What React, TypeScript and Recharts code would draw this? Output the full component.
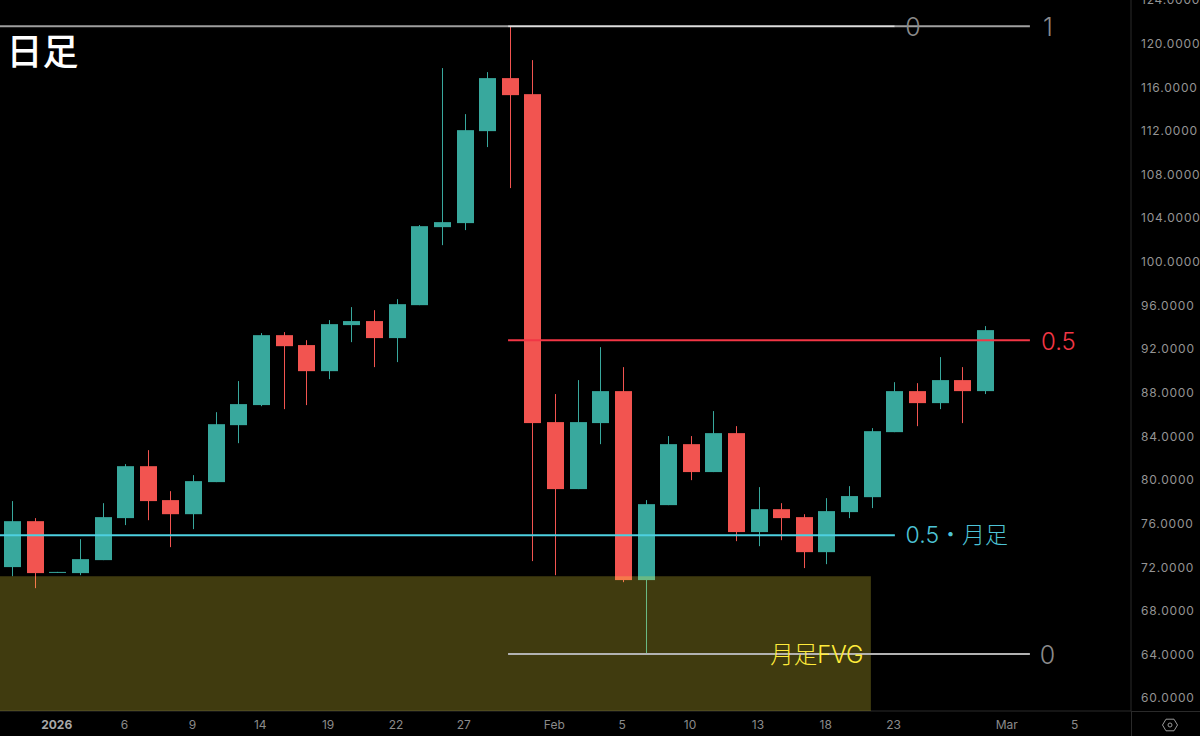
import {
  ComposedChart,
  Bar,
  XAxis,
  YAxis,
  ReferenceArea,
  ReferenceLine,
  ReferenceDot,
} from "recharts";

// Daily candles
const opens = [
  72.02, 76.23, 71.49, 71.47, 72.66, 76.51, 81.27, 78.16, 76.87, 79.81, 85.03,
  86.87, 93.28, 92.37, 89.98, 94.2, 94.57, 93.01, 96.03, 103.18, 103.55, 111.98,
  116.84, 115.37, 85.31, 79.17, 85.22, 88.15, 70.83, 77.7, 83.29, 80.73, 84.3,
  75.23, 77.33, 76.6, 73.39, 77.06, 78.43, 84.39, 88.15, 87.05, 89.16, 88.15,
];
const closes = [
  76.23, 71.47, 71.58, 72.75, 76.6, 81.27, 78.07, 76.87, 79.9, 85.12, 86.96,
  93.28, 92.27, 89.98, 94.29, 94.57, 93.01, 96.12, 103.27, 103.64, 112.07,
  116.84, 115.28, 85.22, 79.17, 85.31, 88.15, 70.83, 77.79, 83.29, 80.73, 84.3,
  75.23, 77.33, 76.51, 73.39, 77.15, 78.53, 84.48, 88.15, 87.05, 89.16, 88.15,
  93.74,
];
const highs = [
  78.07, 76.51, 71.58, 74.58, 77.88, 81.46, 82.74, 78.98, 80.45, 86.22, 89.07,
  93.47, 93.56, 92.82, 94.66, 95.85, 95.57, 96.58, 103.37, 117.76, 113.54,
  117.39, 121.61, 118.49, 87.88, 89.16, 92.18, 90.35, 78.16, 84.03, 84.03,
  86.32, 84.94, 79.35, 77.88, 76.87, 78.34, 79.44, 84.76, 88.97, 88.88, 91.27,
  90.35, 94.11,
];
const lows = [
  71.19, 70.09, 71.49, 71.28, 72.66, 75.87, 76.32, 73.85, 75.5, 79.81, 83.38,
  86.77, 86.5, 86.87, 89.25, 92.64, 90.35, 90.81, 96.03, 101.53, 102.91, 110.52,
  106.76, 72.57, 71.28, 79.17, 83.29, 70.64, 64.14, 77.7, 79.99, 80.73, 74.4,
  73.94, 74.49, 71.93, 72.29, 76.51, 77.43, 84.39, 84.94, 86.5, 85.22, 87.88,
];

const xTicks = [2, 5, 8, 11, 14, 17, 20, 24, 27, 30, 33, 36, 39, 44, 47];
const xLabels = ["2026", "6", "9", "14", "19", "22", "27", "Feb", "5", "10", "13", "18", "23", "Mar", "5"];
const yTicks = [60, 64, 68, 72, 76, 80, 84, 88, 92, 96, 100, 104, 108, 112, 116, 120, 124];

const xDomain = [-0.5504, 49.4493];
const yDomain = [58.83, 124];

// Drawn levels: [from index, to index, price, colour]
const levels: [number, number, number, string][] = [
  [-0.5504, 21.91, 121.6, "#9e9e9e"],
  [21.91, 39.01, 121.6, "#dddddd"],
  [39.01, 44.98, 121.6, "#a0a0a0"],
  [21.91, 44.98, 92.82, "#f23645"],
  [-0.5504, 39.01, 74.95, "#4dd0e1"],
  [21.91, 44.98, 64.05, "#b2b2b2"],
];

// Text on the chart: [text, index, price, colour, size]
const notes: [string, number, number, string, number][] = [
  ["0", 39.81, 121.5, "#8a8a8a", 25],
  ["1", 45.78, 121.5, "#8a8a8a", 25],
  ["0.5", 46.24, 92.73, "#f23645", 24],
  ["0.5・月足", 41.75, 74.95, "#4dc3d6", 23],
  ["月足FVG", 35.56, 63.95, "#ffeb3b", 23.5],
  ["0", 45.76, 63.95, "#8a8a8a", 25],
];
const title = ["日足", 1.33, 119.2] as const;

const fvg = { x1: -0.5504, x2: 37.95, y1: 58.83, y2: 71.19 };

const candles = opens.map((open, i) => ({
  idx: i,
  open,
  close: closes[i],
  high: highs[i],
  low: lows[i],
  range: [lows[i], highs[i]],
}));

const UP = "#38a89d";
const DOWN = "#f25450";
const NOTE_FONT = "Inter, 'Noto Sans CJK JP'";

const Candle = (props: any) => {
  const { x, y, height, payload } = props;
  const h = Math.abs(height);
  const perUnit = h / (payload.high - payload.low);
  const top = y + (payload.high - Math.max(payload.open, payload.close)) * perUnit;
  const bodyH = Math.abs(payload.open - payload.close) * perUnit;
  const color = payload.close >= payload.open ? UP : DOWN;
  const left = Math.round(x);
  return (
    <g>
      <rect x={left + 8} y={y} width={1} height={h} fill={color} />
      <rect x={left} y={top} width={17} height={Math.max(bodyH, 1)} fill={color} />
    </g>
  );
};

const DateTick = (props: any) => {
  const { x, y, payload } = props;
  const label = xLabels[xTicks.indexOf(payload.value)];
  const isYear = label === "2026";
  return (
    <text
      x={x - 1}
      y={y + 10}
      textAnchor="middle"
      fontFamily="Inter"
      fontSize={12}
      fontWeight={isYear ? 700 : 400}
      fill={isYear ? "#a8a8a8" : "#8b8b8b"}
    >
      {label}
    </text>
  );
};

export default function App() {
  return (
    <div style={{ position: "absolute", left: 0, top: 0, width: 1200, height: 736, background: "#000", overflow: "hidden" }}>
      <ComposedChart
        width={1200}
        height={736}
        data={candles}
        margin={{ top: 0, right: 0, bottom: 0, left: 0 }}
      >
        <XAxis
          dataKey="idx"
          type="number"
          domain={xDomain}
          allowDataOverflow
          ticks={xTicks}
          interval={0}
          height={25}
          tickLine={false}
          axisLine={{ stroke: "#2a2a2a" }}
          tick={<DateTick />}
        />
        <YAxis
          type="number"
          orientation="right"
          domain={yDomain}
          allowDataOverflow
          ticks={yTicks}
          interval={0}
          width={69}
          tickLine={false}
          tickMargin={4}
          axisLine={{ stroke: "#2a2a2a" }}
          tick={{ fill: "#949494", fontSize: 12, fontFamily: "Inter", letterSpacing: 0.8 }}
          tickFormatter={(v: number) => v.toFixed(4)}
        />
        <Bar
          dataKey="range"
          barSize={17}
          shape={<Candle />}
          isAnimationActive={false}
        />
      </ComposedChart>
      {/* drawings sit in a second chart so they land on top of the candles */}
      <div style={{ position: "absolute", left: 0, top: 0 }}>
        <ComposedChart
          width={1200}
          height={736}
          data={candles}
          margin={{ top: 0, right: 69, bottom: 25, left: 0 }}
        >
          <XAxis dataKey="idx" type="number" domain={xDomain} allowDataOverflow hide />
          <YAxis type="number" domain={yDomain} allowDataOverflow hide />
          <ReferenceArea
            x1={fvg.x1}
            x2={fvg.x2}
            y1={fvg.y1}
            y2={fvg.y2}
            fill="#ffeb3b"
            fillOpacity={0.25}
            stroke="none"
            ifOverflow="visible"
          />
          {levels.map(([from, to, price, color], i) => (
            <ReferenceLine
              key={i}
              segment={[
                { x: from, y: price },
                { x: to, y: price },
              ]}
              stroke={color}
              strokeWidth={2}
              ifOverflow="visible"
            />
          ))}
          {notes.map(([text, idx, price, color, size], i) => (
            <ReferenceDot
              key={i}
              x={idx}
              y={price}
              r={0}
              stroke="none"
              fill="none"
              ifOverflow="visible"
              label={{
                value: text,
                position: "center",
                fill: color,
                fontSize: size,
                fontWeight: 300,
                fontFamily: NOTE_FONT,
              }}
            />
          ))}
          <ReferenceDot
            x={title[1]}
            y={title[2]}
            r={0}
            stroke="none"
            fill="none"
            ifOverflow="visible"
            label={{
              value: title[0],
              position: "center",
              fill: "#ffffff",
              fontSize: 36,
              fontWeight: 500,
              fontFamily: "'Noto Sans CJK JP'",
            }}
          />
        </ComposedChart>
      </div>
      <div style={{ position: "absolute", left: 1131, top: 711, width: 69, height: 1, background: "#2a2a2a" }} />
      <div style={{ position: "absolute", left: 1131, top: 711, width: 1, height: 25, background: "#2a2a2a" }} />
      <svg style={{ position: "absolute", left: 1160, top: 717 }} width={20} height={16}>
        <polygon points="2.5,8 6,2.2 14,2.2 17.5,8 14,13.8 6,13.8" fill="none" stroke="#9a9a9a" strokeWidth={1} />
        <circle cx={10} cy={8} r={2} fill="none" stroke="#9a9a9a" strokeWidth={1} />
      </svg>
    </div>
  );
}
